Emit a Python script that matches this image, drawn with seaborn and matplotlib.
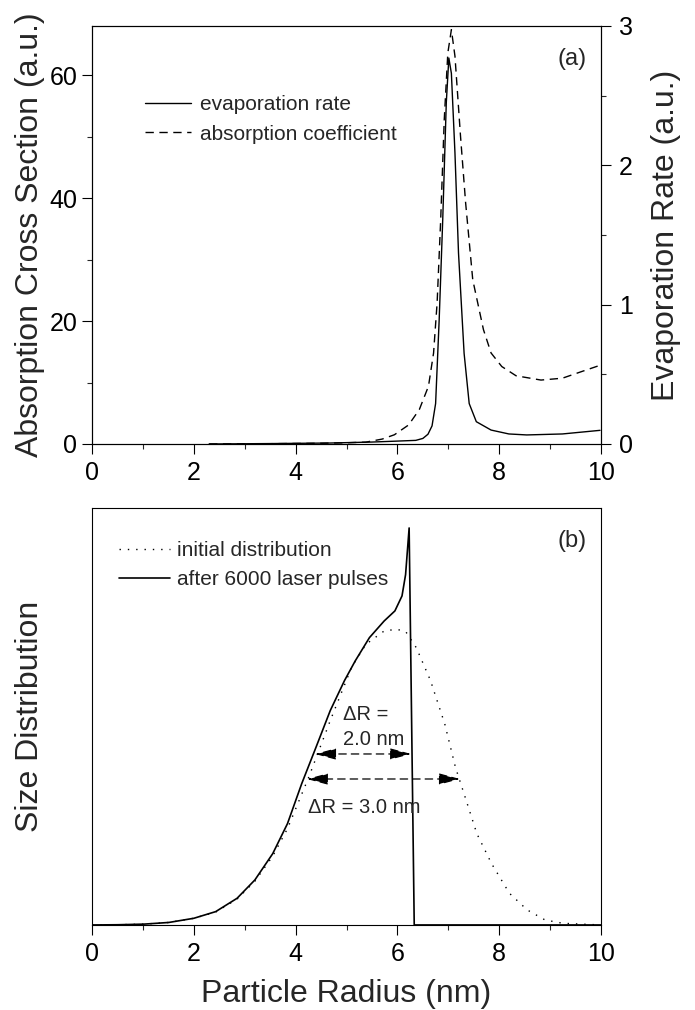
import matplotlib
matplotlib.use("Agg")
import matplotlib.pyplot as plt
from matplotlib.ticker import MultipleLocator, NullLocator
import seaborn as sns

# ---------------- data ----------------
# panel (a): absorption cross section (left axis, dashed)
abs_x = [2.3, 3.5, 4.5, 5.0, 5.38, 5.7, 5.94, 6.22, 6.43, 6.61, 6.71, 6.78, 6.85,
         6.92, 6.99, 7.06, 7.13, 7.24, 7.34, 7.48, 7.69, 7.84, 8.05, 8.33, 8.82,
         9.24, 9.59, 9.98]
abs_y = [0.0, 0.05, 0.12, 0.2, 0.3, 0.8, 1.5, 3.1, 5.6, 9.4, 14.8, 23.0, 36.5,
         52.8, 63.6, 67.4, 63.1, 50.0, 39.2, 26.7, 18.6, 14.8, 12.6, 11.1, 10.4,
         10.7, 11.7, 12.8]
# panel (a): evaporation rate (right axis, solid)
evap_x = [2.3, 3.5, 4.67, 5.5, 5.94, 6.36, 6.5, 6.6, 6.68, 6.75, 6.82, 6.89, 6.96,
          7.01, 7.06, 7.13, 7.20, 7.31, 7.41, 7.55, 7.84, 8.19, 8.54, 9.24, 9.98]
evap_y = [0.0, 0.003, 0.007, 0.014, 0.02, 0.026, 0.04, 0.07, 0.13, 0.29, 0.89,
          1.61, 2.45, 2.77, 2.66, 2.09, 1.37, 0.65, 0.29, 0.16, 0.10, 0.072,
          0.065, 0.072, 0.098]

# panel (b): size distributions (arbitrary units)
init_x = [0, 0.5, 1.02, 1.51, 2.0, 2.43, 2.85, 3.2, 3.55, 3.84, 4.26, 4.68, 5.10,
          5.38, 5.74, 5.98, 6.16, 6.37, 6.65, 6.93, 7.14, 7.35, 7.56, 7.85, 8.2,
          8.55, 8.9, 9.25, 10.0]
init_y = [0, 0.0005, 0.002, 0.006, 0.016, 0.031, 0.062, 0.105, 0.165, 0.231,
          0.355, 0.49, 0.618, 0.673, 0.705, 0.709, 0.704, 0.665, 0.586, 0.482,
          0.378, 0.299, 0.219, 0.147, 0.076, 0.036, 0.012, 0.004, 0.0]
after_x = [0, 0.5, 1.02, 1.51, 2.0, 2.43, 2.85, 3.2, 3.55, 3.84, 4.12, 4.40, 4.68,
           4.96, 5.17, 5.45, 5.74, 5.95, 6.09, 6.16, 6.23, 6.33, 10.0]
after_y = [0, 0.0005, 0.002, 0.006, 0.016, 0.032, 0.064, 0.108, 0.171, 0.243,
           0.339, 0.426, 0.514, 0.586, 0.633, 0.689, 0.729, 0.753, 0.789, 0.84,
           0.952, 0.0, 0.0]

# width annotations: (x_left, x_right, y)
fwhm_after = (4.38, 6.27, 0.41)
fwhm_init = (4.22, 7.23, 0.35)

x_ticks = [0, 2, 4, 6, 8, 10]
left_ticks = [0, 20, 40, 60]
right_ticks = [0, 1, 2, 3]

# ---------------- style ----------------
sns.set_style("ticks")
plt.rcParams["font.family"] = ["Liberation Sans", "DejaVu Sans"]
plt.rcParams["axes.linewidth"] = 0.8
plt.rcParams["axes.edgecolor"] = "black"

fig = plt.figure(figsize=(6.95, 10.10), dpi=100)
ax = fig.add_axes([0.1324, 0.5604, 0.7324, 0.4139])
axb = fig.add_axes([0.1324, 0.0842, 0.7324, 0.4129])

TICK = dict(direction="out", width=0.8, colors="black", labelsize=18)

# ---------------- panel (a) ----------------
ax2 = ax.twinx()
sns.lineplot(x=abs_x, y=abs_y, ax=ax, color="black", lw=1.0,
             linestyle=(0, (6, 4)), label="absorption coefficient", legend=False)
sns.lineplot(x=evap_x, y=evap_y, ax=ax2, color="black", lw=1.0,
             linestyle="-", label="evaporation rate", legend=False)

ax.set_xlim(0, 10)
ax.set_ylim(0, 68)
ax2.set_ylim(0, 3)
ax.set_xticks(x_ticks)
ax.set_yticks(left_ticks)
ax2.set_yticks(right_ticks)
ax.xaxis.set_minor_locator(MultipleLocator(1))
ax.yaxis.set_minor_locator(MultipleLocator(10))
ax2.yaxis.set_minor_locator(MultipleLocator(0.5))
ax.tick_params(axis="x", which="major", length=7.5, pad=5, **TICK)
ax.tick_params(axis="x", which="minor", length=3.8, direction="out", width=0.8)
ax.tick_params(axis="y", which="major", length=7.5, pad=3, **TICK)
ax.tick_params(axis="y", which="minor", length=3.8, direction="out", width=0.8)
ax2.tick_params(axis="y", which="major", length=7.5, pad=5.5, **TICK)
ax2.tick_params(axis="y", which="minor", length=3.8, direction="out", width=0.8)
ax.set_xlabel("")
ax.set_ylabel("Absorption Cross Section (a.u.)", fontsize=23)
ax2.set_ylabel("Evaporation Rate (a.u.)", fontsize=23)
ax.yaxis.set_label_coords(-0.092, 0.5)
ax2.yaxis.set_label_coords(1.098, 0.5)
for s in ax.spines.values():
    s.set_visible(True)
    s.set_linewidth(0.8)
for s in ax2.spines.values():
    s.set_linewidth(0.8)

h1 = ax2.get_lines()[0]
h2 = ax.get_lines()[0]
ax2.legend([h1, h2], ["evaporation rate", "absorption coefficient"],
           loc="upper left", bbox_to_anchor=(0.105, 0.834), frameon=False,
           fontsize=15, handlelength=2.2, handletextpad=0.4,
           labelspacing=0.49, borderpad=0, borderaxespad=0)
ax.text(0.972, 0.921, "(a)", transform=ax.transAxes, ha="right", va="center",
        fontsize=17)

# ---------------- panel (b) ----------------
sns.lineplot(x=init_x, y=init_y, ax=axb, color="black", lw=1.0,
             linestyle=(0, (1, 5)), legend=False)
sns.lineplot(x=after_x, y=after_y, ax=axb, color="black", lw=1.2,
             linestyle="-", legend=False)
axb.set_xlim(0, 10)
axb.set_ylim(0, 1.0)
axb.set_xticks(x_ticks)
axb.xaxis.set_minor_locator(MultipleLocator(1))
axb.yaxis.set_major_locator(NullLocator())
axb.yaxis.set_minor_locator(NullLocator())
axb.tick_params(axis="x", which="major", length=7.5, pad=5, **TICK)
axb.tick_params(axis="x", which="minor", length=3.8, direction="out", width=0.8)
axb.set_xlabel("Particle Radius (nm)", fontsize=23)
axb.set_ylabel("Size Distribution", fontsize=23)
axb.xaxis.set_label_coords(0.5, -0.13)
axb.yaxis.set_label_coords(-0.092, 0.5)
for s in axb.spines.values():
    s.set_visible(True)
    s.set_linewidth(0.8)

lb = axb.get_lines()
axb.legend([lb[0], lb[1]], ["initial distribution", "after 6000 laser pulses"],
           loc="upper left", bbox_to_anchor=(0.053, 0.92), frameon=False,
           fontsize=15, handlelength=2.45, handletextpad=0.35,
           labelspacing=0.49, borderpad=0, borderaxespad=0)
axb.text(0.972, 0.92, "(b)", transform=axb.transAxes, ha="right", va="center",
         fontsize=17)

arrow = dict(arrowstyle="<|-|>,head_length=1.3,head_width=0.35",
             color="black", lw=0.9, linestyle=(0, (6, 4)),
             shrinkA=0, shrinkB=0, mutation_scale=10)
for xl, xr, yy in (fwhm_after, fwhm_init):
    axb.annotate("", xy=(xl, yy), xytext=(xr, yy), arrowprops=arrow)
axb.text(4.93, 0.504, "\u0394R =", fontsize=14.5, ha="left", va="center")
axb.text(4.93, 0.444, "2.0 nm", fontsize=14.5, ha="left", va="center")
axb.text(4.24, 0.281, "\u0394R = 3.0 nm", fontsize=14.5, ha="left", va="center")

fig.savefig("out.png", dpi=100)
